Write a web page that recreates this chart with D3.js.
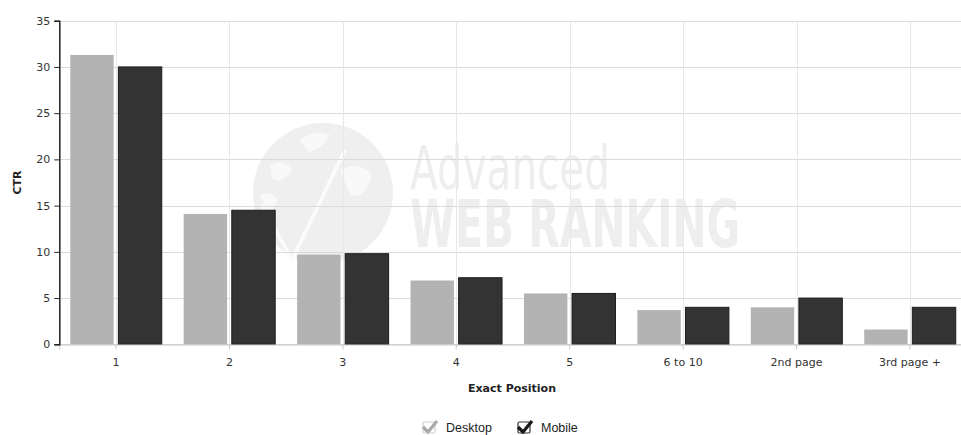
<!DOCTYPE html>
<html>
<head>
<meta charset="utf-8">
<script src="https://cdn.jsdelivr.net/npm/d3@7"></script>
<style>
  body { margin: 0; background: #fff; }
  svg { display: block; }
</style>
</head>
<body>
<svg id="chart" width="961" height="435"></svg>
<script>
// chart data
let categories = ["1", "2", "3", "4", "5", "6 to 10", "2nd page", "3rd page +"];
let seriesNames = ["Desktop", "Mobile"];
let desktopValues = [31.3, 14.1, 9.7, 6.9, 5.5, 3.7, 4.0, 1.6];
let mobileValues = [30.0, 14.5, 9.8, 7.2, 5.5, 4.0, 5.0, 4.0];
let yTicks = [0, 5, 10, 15, 20, 25, 30, 35];

let colours = { Desktop: "#b3b3b3", Mobile: "#333333" };
let tickFont = "'DejaVu Sans', Verdana, sans-serif";

let svg = d3.select("#chart");

let plotLeft = 59.3, plotRight = 966.7; // plot runs past the right edge, like the source image
let plotTop = 20.7, plotBottom = 344.3;

let x = d3.scaleBand().domain(categories).range([plotLeft, plotRight]);
let xs = d3.scaleBand().domain(seriesNames).range([0, x.bandwidth()])
    .paddingInner(0.0975).paddingOuter(0.228);
let y = d3.scaleLinear().domain([0, 35]).range([plotBottom, plotTop]);

// ---- watermark (behind everything) ----
let wm = svg.append("g").attr("class", "watermark");
wm.append("circle")
    .attr("cx", 323).attr("cy", 193).attr("r", 70)
    .style("fill", "#efefef");
// rough continents / logo strokes in white
wm.append("path")
    .attr("d", "M262,205 L292,260 L345,150")
    .style("fill", "none").style("stroke", "#fbfbfb").style("stroke-width", 4);
wm.append("path")
    .attr("d", "M300,140 Q315,128 330,135 Q322,150 308,152 Z M270,165 Q285,158 292,170 Q282,185 272,178 Z M340,170 Q360,160 372,175 Q365,200 350,195 Z M260,195 Q270,190 278,200 L270,215 Z")
    .style("fill", "#f9f9f9");
wm.append("text")
    .attr("x", 410).attr("y", 189)
    .attr("textLength", 200).attr("lengthAdjust", "spacingAndGlyphs")
    .style("font-family", "'Liberation Sans Narrow', 'DejaVu Sans Condensed', sans-serif")
    .style("font-size", "60px")
    .style("fill", "#eeeeee")
    .text("Advanced");
wm.append("text")
    .attr("x", 410).attr("y", 247)
    .attr("textLength", 330).attr("lengthAdjust", "spacingAndGlyphs")
    .style("font-family", "'Liberation Sans Narrow', 'DejaVu Sans Condensed', sans-serif")
    .style("font-size", "66px")
    .style("font-weight", "bold")
    .style("fill", "#eeeeee")
    .text("WEB RANKING");

// ---- grid ----
let grid = svg.append("g").attr("class", "grid");
grid.selectAll("line.h")
    .data(yTicks)
    .enter().append("line")
    .attr("class", "h")
    .attr("x1", plotLeft).attr("x2", 961)
    .attr("y1", d => Math.round(y(d)) + 0.5)
    .attr("y2", d => Math.round(y(d)) + 0.5)
    .style("stroke", "#dadada");
grid.selectAll("line.v")
    .data(categories)
    .enter().append("line")
    .attr("class", "v")
    .attr("x1", d => Math.round(x(d) + x.bandwidth() / 2) + 0.5)
    .attr("x2", d => Math.round(x(d) + x.bandwidth() / 2) + 0.5)
    .attr("y1", plotTop)
    .attr("y2", plotBottom)
    .style("stroke", "#e8e8e8");

// ---- bars ----
let rows = categories.map((c, i) => ({ cat: c, Desktop: desktopValues[i], Mobile: mobileValues[i] }));
let groups = svg.append("g").selectAll("g")
    .data(rows)
    .enter().append("g")
    .attr("transform", d => "translate(" + x(d.cat) + ",0)");
groups.selectAll("rect")
    .data(d => seriesNames.map(s => ({ s: s, v: d[s] })))
    .enter().append("rect")
    .attr("x", d => xs(d.s))
    .attr("y", d => y(d.v))
    .attr("width", xs.bandwidth())
    .attr("height", d => y(0) - y(d.v))
    .style("fill", d => colours[d.s])
    .style("stroke", d => d.s === "Mobile" ? "#1c1c1c" : "none")
    .style("stroke-width", 1);

// ---- x axis ----
let xAxis = d3.axisBottom(x).tickSize(5).tickPadding(9);
let gx = svg.append("g")
    .attr("transform", "translate(0," + (Math.round(plotBottom) + 0.5) + ")")
    .call(xAxis);
gx.select(".domain").style("stroke", "#c8c8c8");
gx.selectAll(".tick line").style("stroke", "#c8c8c8");
gx.selectAll("text")
    .style("font-family", tickFont).style("font-size", "11px").style("fill", "#333");

// ---- y axis ----
let yAxis = d3.axisLeft(y).tickValues(yTicks).tickSize(5).tickPadding(4);
let gy = svg.append("g")
    .attr("transform", "translate(" + plotLeft + ",0)")
    .call(yAxis);
gy.select(".domain").style("stroke", "#222").style("stroke-width", 1.5);
gy.selectAll(".tick line").style("stroke", "#222");
gy.selectAll("text")
    .style("font-family", tickFont).style("font-size", "11px").style("fill", "#333");

// ---- axis titles ----
svg.append("text")
    .attr("transform", "translate(21," + ((plotTop + plotBottom) / 2) + ") rotate(-90)")
    .attr("text-anchor", "middle")
    .style("font-family", tickFont).style("font-size", "11px").style("font-weight", "bold")
    .style("fill", "#222")
    .text("CTR");
svg.append("text")
    .attr("x", 512).attr("y", 392)
    .attr("text-anchor", "middle")
    .style("font-family", tickFont).style("font-size", "11px").style("font-weight", "bold")
    .style("fill", "#222")
    .text("Exact Position");

// ---- legend ----
let legendX = [422, 517];
let legendCheck = { Desktop: "#aaaaaa", Mobile: "#1a1a1a" };
let legend = svg.append("g").selectAll("g")
    .data(seriesNames)
    .enter().append("g")
    .attr("transform", (d, i) => "translate(" + legendX[i] + ",419)");
legend.append("rect")
    .attr("x", 1).attr("y", 3).attr("width", 12).attr("height", 11).attr("rx", 1.5)
    .style("fill", "#fff")
    .style("stroke", d => d === "Desktop" ? "#cfcfcf" : "#333")
    .style("stroke-width", 1.2);
legend.append("path")
    .attr("d", "M1,8 L6,13 L15,2")
    .style("fill", "none")
    .style("stroke", d => legendCheck[d])
    .style("stroke-width", 3.2)
    .style("stroke-linejoin", "round");
legend.append("text")
    .attr("x", 24).attr("y", 13)
    .style("font-family", "'Liberation Sans', Arial, sans-serif")
    .style("font-size", "12.5px")
    .style("fill", "#222")
    .text(d => d);
</script>
</body>
</html>
